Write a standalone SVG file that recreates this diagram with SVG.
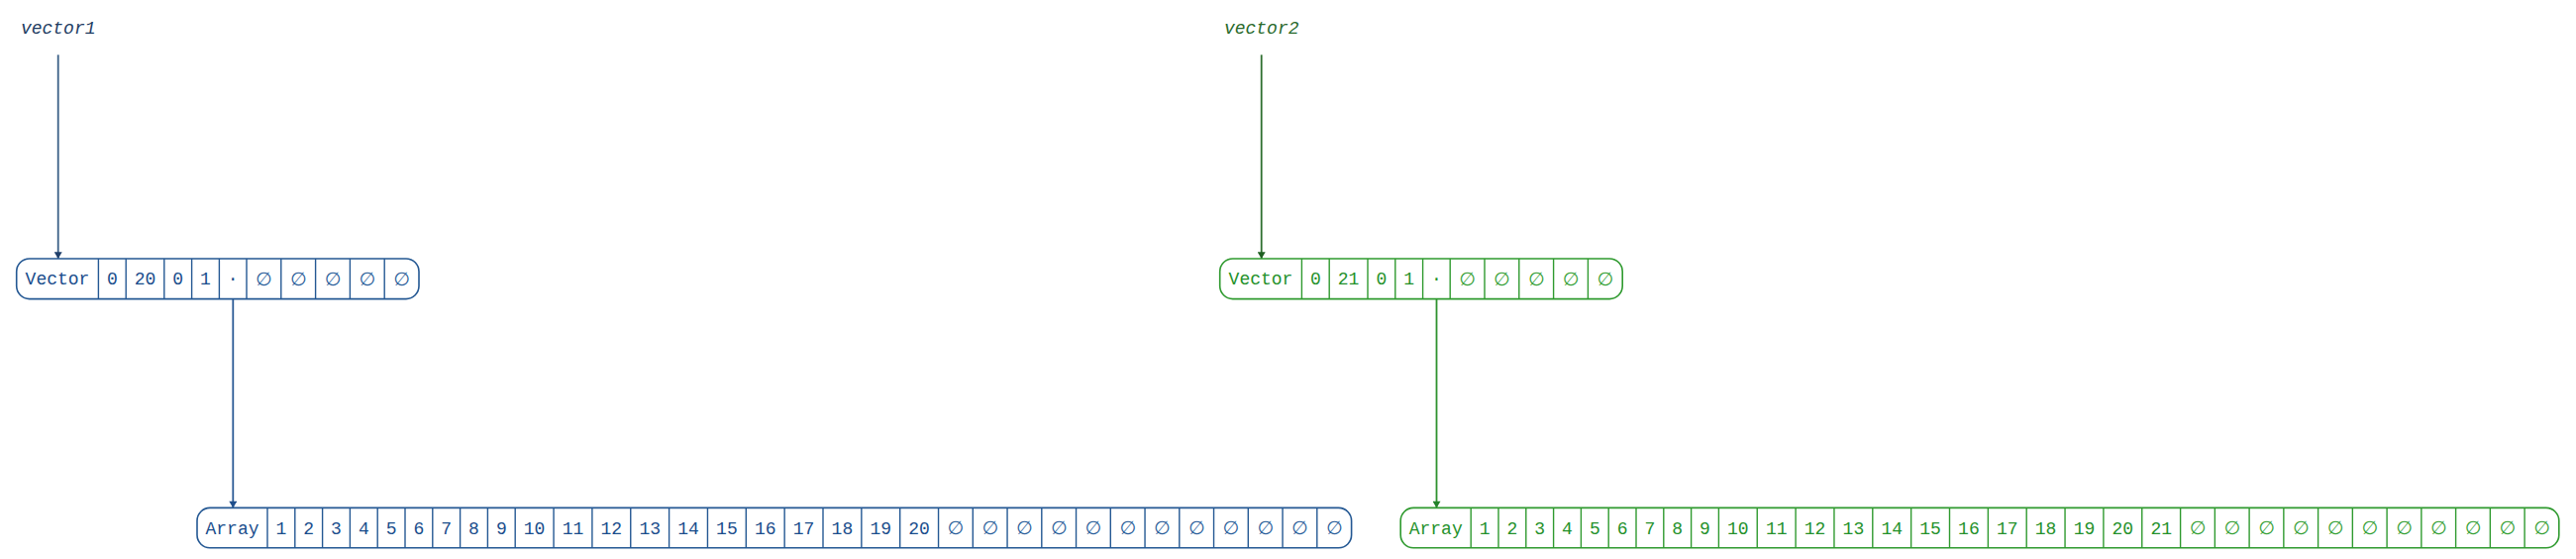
<svg xmlns="http://www.w3.org/2000/svg" width="2601" height="564" viewBox="0 0 2601 564">
<defs>
<style>
text{font-family:"Liberation Mono","DejaVu Sans Mono",monospace;font-size:18px;text-anchor:middle}
text.n{font-family:"DejaVu Sans","DejaVu Sans Mono",sans-serif;font-size:19px}
.lbl{font-style:italic}
.b .box{fill:#fff;stroke:#245893;stroke-width:1.6}
.b line.d{stroke:#245893;stroke-width:1.4}
.b text{fill:#1a4d8c}
.b text.n{fill:#2a5e9a}
.g .box{fill:#fff;stroke:#2f9a2f;stroke-width:1.6}
.g line.d{stroke:#2f9a2f;stroke-width:1.4}
.g text{fill:#24912a}
.g text.n{fill:#35a035}
</style>
<marker id="ab" viewBox="0 0 10 12" refX="10" refY="6" markerWidth="11" markerHeight="8" markerUnits="userSpaceOnUse" orient="auto"><path d="M0,0 L10,6 L0,12 z" fill="#1f3f6a"/></marker>
<marker id="ab2" viewBox="0 0 10 12" refX="10" refY="6" markerWidth="11" markerHeight="8" markerUnits="userSpaceOnUse" orient="auto"><path d="M0,0 L10,6 L0,12 z" fill="#1f4f8c"/></marker>
<marker id="ag" viewBox="0 0 10 12" refX="10" refY="6" markerWidth="11" markerHeight="8" markerUnits="userSpaceOnUse" orient="auto"><path d="M0,0 L10,6 L0,12 z" fill="#1f5f22"/></marker>
<marker id="ag2" viewBox="0 0 10 12" refX="10" refY="6" markerWidth="11" markerHeight="8" markerUnits="userSpaceOnUse" orient="auto"><path d="M0,0 L10,6 L0,12 z" fill="#23822a"/></marker>
</defs>
<rect width="2601" height="564" fill="#fff"/>

<g id="label-vector1" class="b"><text class="lbl" x="58.7" y="33.5" style="fill:#1f3d63">vector1</text></g>
<g id="label-vector2" class="g"><text class="lbl" x="1273.7" y="33.5" style="fill:#2a6a2c">vector2</text></g>

<g id="connectors">
<line x1="58.7" y1="55.3" x2="58.7" y2="261" stroke="#3a5f86" stroke-width="1.8" marker-end="url(#ab)"/>
<line x1="235.3" y1="301.7" x2="235.3" y2="512.4" stroke="#2a5a95" stroke-width="1.8" marker-end="url(#ab2)"/>
<line x1="1273.7" y1="55.3" x2="1273.7" y2="261" stroke="#2f6f30" stroke-width="1.8" marker-end="url(#ag)"/>
<line x1="1450.5" y1="301.7" x2="1450.5" y2="512.4" stroke="#2f922f" stroke-width="1.8" marker-end="url(#ag2)"/>
</g>

<g id="vector1" class="b">
<rect class="box" x="16.7" y="261" width="406.3" height="40.6" rx="13"/>
<line class="d" x1="99.4" y1="261" x2="99.4" y2="301.6"/>
<line class="d" x1="127.2" y1="261" x2="127.2" y2="301.6"/>
<line class="d" x1="165.8" y1="261" x2="165.8" y2="301.6"/>
<line class="d" x1="193.6" y1="261" x2="193.6" y2="301.6"/>
<line class="d" x1="221.4" y1="261" x2="221.4" y2="301.6"/>
<line class="d" x1="249" y1="261" x2="249" y2="301.6"/>
<line class="d" x1="283.8" y1="261" x2="283.8" y2="301.6"/>
<line class="d" x1="318.6" y1="261" x2="318.6" y2="301.6"/>
<line class="d" x1="353.4" y1="261" x2="353.4" y2="301.6"/>
<line class="d" x1="388.2" y1="261" x2="388.2" y2="301.6"/>
<text x="58" y="287.3">Vector</text>
<text x="113.3" y="287.3">0</text>
<text x="146.5" y="287.3">20</text>
<text x="179.7" y="287.3">0</text>
<text x="207.5" y="287.3">1</text>
<text x="235.2" y="287.3">·</text>
<text class="n" x="266.4" y="287.8">∅</text>
<text class="n" x="301.2" y="287.8">∅</text>
<text class="n" x="336" y="287.8">∅</text>
<text class="n" x="370.8" y="287.8">∅</text>
<text class="n" x="405.6" y="287.8">∅</text>
</g>

<g id="vector2" class="g">
<rect class="box" x="1231.7" y="261" width="406.5" height="40.6" rx="13"/>
<line class="d" x1="1314.4" y1="261" x2="1314.4" y2="301.6"/>
<line class="d" x1="1342.2" y1="261" x2="1342.2" y2="301.6"/>
<line class="d" x1="1381" y1="261" x2="1381" y2="301.6"/>
<line class="d" x1="1408.8" y1="261" x2="1408.8" y2="301.6"/>
<line class="d" x1="1436.6" y1="261" x2="1436.6" y2="301.6"/>
<line class="d" x1="1464.2" y1="261" x2="1464.2" y2="301.6"/>
<line class="d" x1="1499" y1="261" x2="1499" y2="301.6"/>
<line class="d" x1="1533.8" y1="261" x2="1533.8" y2="301.6"/>
<line class="d" x1="1568.6" y1="261" x2="1568.6" y2="301.6"/>
<line class="d" x1="1603.4" y1="261" x2="1603.4" y2="301.6"/>
<text x="1273" y="287.3">Vector</text>
<text x="1328.3" y="287.3">0</text>
<text x="1361.6" y="287.3">21</text>
<text x="1394.9" y="287.3">0</text>
<text x="1422.7" y="287.3">1</text>
<text x="1450.4" y="287.3">·</text>
<text class="n" x="1481.6" y="287.8">∅</text>
<text class="n" x="1516.4" y="287.8">∅</text>
<text class="n" x="1551.2" y="287.8">∅</text>
<text class="n" x="1586" y="287.8">∅</text>
<text class="n" x="1620.8" y="287.8">∅</text>
</g>

<g id="array1" class="b">
<rect class="box" x="199" y="512.4" width="1165.6" height="40.4" rx="13"/>
<g id="array1-cells">
<line class="d" x1="270" y1="512.4" x2="270" y2="552.8"/>
<line class="d" x1="297.8" y1="512.4" x2="297.8" y2="552.8"/>
<line class="d" x1="325.6" y1="512.4" x2="325.6" y2="552.8"/>
<line class="d" x1="353.4" y1="512.4" x2="353.4" y2="552.8"/>
<line class="d" x1="381.2" y1="512.4" x2="381.2" y2="552.8"/>
<line class="d" x1="409" y1="512.4" x2="409" y2="552.8"/>
<line class="d" x1="436.8" y1="512.4" x2="436.8" y2="552.8"/>
<line class="d" x1="464.6" y1="512.4" x2="464.6" y2="552.8"/>
<line class="d" x1="492.4" y1="512.4" x2="492.4" y2="552.8"/>
<line class="d" x1="520.2" y1="512.4" x2="520.2" y2="552.8"/>
<line class="d" x1="559.05" y1="512.4" x2="559.05" y2="552.8"/>
<line class="d" x1="597.9" y1="512.4" x2="597.9" y2="552.8"/>
<line class="d" x1="636.75" y1="512.4" x2="636.75" y2="552.8"/>
<line class="d" x1="675.6" y1="512.4" x2="675.6" y2="552.8"/>
<line class="d" x1="714.45" y1="512.4" x2="714.45" y2="552.8"/>
<line class="d" x1="753.3" y1="512.4" x2="753.3" y2="552.8"/>
<line class="d" x1="792.15" y1="512.4" x2="792.15" y2="552.8"/>
<line class="d" x1="831" y1="512.4" x2="831" y2="552.8"/>
<line class="d" x1="869.85" y1="512.4" x2="869.85" y2="552.8"/>
<line class="d" x1="908.7" y1="512.4" x2="908.7" y2="552.8"/>
<line class="d" x1="947.55" y1="512.4" x2="947.55" y2="552.8"/>
<line class="d" x1="982.3" y1="512.4" x2="982.3" y2="552.8"/>
<line class="d" x1="1017.05" y1="512.4" x2="1017.05" y2="552.8"/>
<line class="d" x1="1051.8" y1="512.4" x2="1051.8" y2="552.8"/>
<line class="d" x1="1086.55" y1="512.4" x2="1086.55" y2="552.8"/>
<line class="d" x1="1121.3" y1="512.4" x2="1121.3" y2="552.8"/>
<line class="d" x1="1156.05" y1="512.4" x2="1156.05" y2="552.8"/>
<line class="d" x1="1190.8" y1="512.4" x2="1190.8" y2="552.8"/>
<line class="d" x1="1225.55" y1="512.4" x2="1225.55" y2="552.8"/>
<line class="d" x1="1260.3" y1="512.4" x2="1260.3" y2="552.8"/>
<line class="d" x1="1295.05" y1="512.4" x2="1295.05" y2="552.8"/>
<line class="d" x1="1329.8" y1="512.4" x2="1329.8" y2="552.8"/>
</g>
<text x="234.5" y="538.6">Array</text>
<text x="283.9" y="538.6">1</text>
<text x="311.7" y="538.6">2</text>
<text x="339.5" y="538.6">3</text>
<text x="367.3" y="538.6">4</text>
<text x="395.1" y="538.6">5</text>
<text x="422.9" y="538.6">6</text>
<text x="450.7" y="538.6">7</text>
<text x="478.5" y="538.6">8</text>
<text x="506.3" y="538.6">9</text>
<text x="539.6" y="538.6">10</text>
<text x="578.5" y="538.6">11</text>
<text x="617.3" y="538.6">12</text>
<text x="656.2" y="538.6">13</text>
<text x="695" y="538.6">14</text>
<text x="733.9" y="538.6">15</text>
<text x="772.7" y="538.6">16</text>
<text x="811.6" y="538.6">17</text>
<text x="850.4" y="538.6">18</text>
<text x="889.3" y="538.6">19</text>
<text x="928.1" y="538.6">20</text>
<text class="n" x="964.9" y="539.1">∅</text>
<text class="n" x="999.7" y="539.1">∅</text>
<text class="n" x="1034.4" y="539.1">∅</text>
<text class="n" x="1069.2" y="539.1">∅</text>
<text class="n" x="1103.9" y="539.1">∅</text>
<text class="n" x="1138.7" y="539.1">∅</text>
<text class="n" x="1173.4" y="539.1">∅</text>
<text class="n" x="1208.2" y="539.1">∅</text>
<text class="n" x="1242.9" y="539.1">∅</text>
<text class="n" x="1277.7" y="539.1">∅</text>
<text class="n" x="1312.4" y="539.1">∅</text>
<text class="n" x="1347.2" y="539.1">∅</text>
</g>

<g id="array2" class="g">
<rect class="box" x="1414.2" y="512.4" width="1169.6" height="40.4" rx="13"/>
<g id="array2-cells">
<line class="d" x1="1485.2" y1="512.4" x2="1485.2" y2="552.8"/>
<line class="d" x1="1513" y1="512.4" x2="1513" y2="552.8"/>
<line class="d" x1="1540.8" y1="512.4" x2="1540.8" y2="552.8"/>
<line class="d" x1="1568.6" y1="512.4" x2="1568.6" y2="552.8"/>
<line class="d" x1="1596.4" y1="512.4" x2="1596.4" y2="552.8"/>
<line class="d" x1="1624.2" y1="512.4" x2="1624.2" y2="552.8"/>
<line class="d" x1="1652" y1="512.4" x2="1652" y2="552.8"/>
<line class="d" x1="1679.8" y1="512.4" x2="1679.8" y2="552.8"/>
<line class="d" x1="1707.6" y1="512.4" x2="1707.6" y2="552.8"/>
<line class="d" x1="1735.4" y1="512.4" x2="1735.4" y2="552.8"/>
<line class="d" x1="1774.25" y1="512.4" x2="1774.25" y2="552.8"/>
<line class="d" x1="1813.1" y1="512.4" x2="1813.1" y2="552.8"/>
<line class="d" x1="1851.95" y1="512.4" x2="1851.95" y2="552.8"/>
<line class="d" x1="1890.8" y1="512.4" x2="1890.8" y2="552.8"/>
<line class="d" x1="1929.65" y1="512.4" x2="1929.65" y2="552.8"/>
<line class="d" x1="1968.5" y1="512.4" x2="1968.5" y2="552.8"/>
<line class="d" x1="2007.35" y1="512.4" x2="2007.35" y2="552.8"/>
<line class="d" x1="2046.2" y1="512.4" x2="2046.2" y2="552.8"/>
<line class="d" x1="2085.05" y1="512.4" x2="2085.05" y2="552.8"/>
<line class="d" x1="2123.9" y1="512.4" x2="2123.9" y2="552.8"/>
<line class="d" x1="2162.75" y1="512.4" x2="2162.75" y2="552.8"/>
<line class="d" x1="2201.6" y1="512.4" x2="2201.6" y2="552.8"/>
<line class="d" x1="2236.35" y1="512.4" x2="2236.35" y2="552.8"/>
<line class="d" x1="2271.1" y1="512.4" x2="2271.1" y2="552.8"/>
<line class="d" x1="2305.85" y1="512.4" x2="2305.85" y2="552.8"/>
<line class="d" x1="2340.6" y1="512.4" x2="2340.6" y2="552.8"/>
<line class="d" x1="2375.35" y1="512.4" x2="2375.35" y2="552.8"/>
<line class="d" x1="2410.1" y1="512.4" x2="2410.1" y2="552.8"/>
<line class="d" x1="2444.85" y1="512.4" x2="2444.85" y2="552.8"/>
<line class="d" x1="2479.6" y1="512.4" x2="2479.6" y2="552.8"/>
<line class="d" x1="2514.35" y1="512.4" x2="2514.35" y2="552.8"/>
<line class="d" x1="2549.1" y1="512.4" x2="2549.1" y2="552.8"/>
</g>
<text x="1449.7" y="538.6">Array</text>
<text x="1499.1" y="538.6">1</text>
<text x="1526.9" y="538.6">2</text>
<text x="1554.7" y="538.6">3</text>
<text x="1582.5" y="538.6">4</text>
<text x="1610.3" y="538.6">5</text>
<text x="1638.1" y="538.6">6</text>
<text x="1665.9" y="538.6">7</text>
<text x="1693.7" y="538.6">8</text>
<text x="1721.5" y="538.6">9</text>
<text x="1754.8" y="538.6">10</text>
<text x="1793.7" y="538.6">11</text>
<text x="1832.5" y="538.6">12</text>
<text x="1871.4" y="538.6">13</text>
<text x="1910.2" y="538.6">14</text>
<text x="1949.1" y="538.6">15</text>
<text x="1987.9" y="538.6">16</text>
<text x="2026.8" y="538.6">17</text>
<text x="2065.6" y="538.6">18</text>
<text x="2104.5" y="538.6">19</text>
<text x="2143.3" y="538.6">20</text>
<text x="2182.2" y="538.6">21</text>
<text class="n" x="2219" y="539.1">∅</text>
<text class="n" x="2253.7" y="539.1">∅</text>
<text class="n" x="2288.5" y="539.1">∅</text>
<text class="n" x="2323.2" y="539.1">∅</text>
<text class="n" x="2358" y="539.1">∅</text>
<text class="n" x="2392.7" y="539.1">∅</text>
<text class="n" x="2427.5" y="539.1">∅</text>
<text class="n" x="2462.2" y="539.1">∅</text>
<text class="n" x="2497" y="539.1">∅</text>
<text class="n" x="2531.7" y="539.1">∅</text>
<text class="n" x="2566.5" y="539.1">∅</text>
</g>
</svg>
